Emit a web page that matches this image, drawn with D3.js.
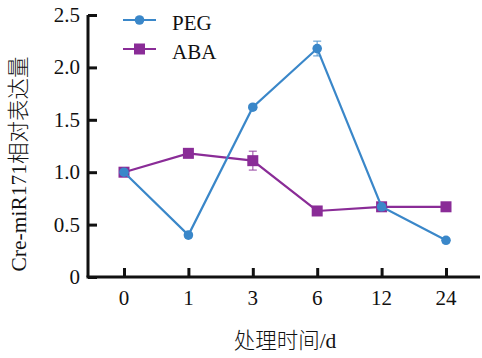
<!DOCTYPE html>
<html><head><meta charset="utf-8">
<script src="https://cdn.jsdelivr.net/npm/d3@7"></script>
<style>
html,body{margin:0;padding:0;background:#fff;}
svg{display:block;}
text{font-family:"Liberation Serif","Times New Roman","Noto Sans CJK SC",serif;}
</style></head>
<body>
<svg id="chart" width="482" height="358"></svg>
<script>
// Treatment times (days) used as category labels
const times = ["0", "1", "3", "6", "12", "24"];
// Relative expression of Cre-miR171
const pegValues = [1.0, 0.40, 1.62, 2.18, 0.67, 0.35];
const pegErrors = [0.02, 0.02, 0.02, 0.07, 0.02, 0.02];
const abaValues = [1.0, 1.18, 1.11, 0.63, 0.67, 0.67];
const abaErrors = [0.02, 0.02, 0.09, 0.02, 0.02, 0.02];
const yTicks = [0, 0.5, 1.0, 1.5, 2.0, 2.5];
const yTickLabels = ["0", "0.5", "1.0", "1.5", "2.0", "2.5"];

(function () {
const svg = d3.select("#chart");
const plotLeft = 88, plotRight = 480, plotTop = 15, plotBottom = 277;
const fs = 21;

const x = d3.scalePoint().domain(times).range([124, 446]);
const y = d3.scaleLinear().domain([0, 2.5]).range([plotBottom, plotTop]);

const axisColor = "#111";

// Y axis
const yAxis = svg.append("g").attr("transform", `translate(${plotLeft},0)`)
  .call(d3.axisRight(y).tickValues(yTicks).tickSize(9).tickFormat(""));
yAxis.select(".domain").attr("stroke", axisColor).attr("stroke-width", 3)
  .attr("d", `M0,${plotTop}V${plotBottom}`);
yAxis.selectAll(".tick line").attr("stroke", axisColor).attr("stroke-width", 3);
svg.append("g").selectAll("text").data(yTicks).join("text")
  .attr("x", plotLeft - 8).attr("y", d => y(d) + 7)
  .attr("text-anchor", "end").attr("font-size", fs).attr("fill", "#111")
  .text((d, i) => yTickLabels[i]);

// X axis
const xAxis = svg.append("g").attr("transform", `translate(0,${plotBottom})`)
  .call(d3.axisTop(x).tickSize(9).tickFormat(""));
xAxis.select(".domain").attr("stroke", axisColor).attr("stroke-width", 3)
  .attr("d", `M${plotLeft - 1.5},0H${plotRight}`);
xAxis.selectAll(".tick line").attr("stroke", axisColor).attr("stroke-width", 3);
svg.append("g").selectAll("text").data(times).join("text")
  .attr("x", d => x(d)).attr("y", plotBottom + 28)
  .attr("text-anchor", "middle").attr("font-size", fs).attr("fill", "#111")
  .text(d => d);

// Axis titles
svg.append("text")
  .attr("transform", `translate(26,${(55 + 273) / 2}) rotate(-90)`)
  .attr("text-anchor", "middle").attr("font-size", 21.5).attr("font-weight", 300).attr("fill", "#111")
  .text("Cre-miR171相对表达量");
svg.append("text")
  .attr("x", 285).attr("y", 348)
  .attr("text-anchor", "middle").attr("font-size", 21.5).attr("font-weight", 300).attr("fill", "#111")
  .text("处理时间/d");

const series = [
  { name: "PEG", values: pegValues, errors: pegErrors, color: "#3a87c9", shape: "circle" },
  { name: "ABA", values: abaValues, errors: abaErrors, color: "#8a2c97", shape: "square" }
];

const line = d3.line().x(d => x(d.t)).y(d => y(d.v));

function drawMarker(g, shape, color, cx, cy) {
  if (shape === "circle") {
    g.append("circle").attr("cx", cx).attr("cy", cy).attr("r", 4.8).attr("fill", color);
  } else {
    g.append("rect").attr("x", cx - 5.5).attr("y", cy - 5.5).attr("width", 11).attr("height", 11).attr("fill", color);
  }
}

// Draw ABA first so PEG sits on top
[series[1], series[0]].forEach(s => {
  const pts = s.values.map((v, i) => ({ t: times[i], v, e: s.errors[i] }));
  const g = svg.append("g");
  g.append("path").datum(pts).attr("d", line)
    .attr("fill", "none").attr("stroke", s.color).attr("stroke-width", 2.2);
  // error bars
  pts.forEach(p => {
    const cx = x(p.t);
    g.append("line").attr("x1", cx).attr("x2", cx).attr("y1", y(p.v + p.e)).attr("y2", y(p.v - p.e))
      .attr("stroke", s.color).attr("stroke-width", 1.5).attr("opacity", 0.6);
    [p.v + p.e, p.v - p.e].forEach(ev => {
      g.append("line").attr("x1", cx - 4).attr("x2", cx + 4).attr("y1", y(ev)).attr("y2", y(ev))
        .attr("stroke", s.color).attr("stroke-width", 1.5).attr("opacity", 0.6);
    });
  });
  pts.forEach(p => drawMarker(g, s.shape, s.color, x(p.t), y(p.v)));
});

// Legend
series.forEach((s, i) => {
  const ly = 20 + i * 29;
  const g = svg.append("g");
  g.append("line").attr("x1", 123).attr("x2", 156).attr("y1", ly).attr("y2", ly)
    .attr("stroke", s.color).attr("stroke-width", 2.2);
  drawMarker(g, s.shape, s.color, 139.5, ly);
  g.append("text").attr("x", 172).attr("y", ly + 10).attr("font-size", fs).attr("fill", "#111").text(s.name);
});
})();
</script>
</body></html>
